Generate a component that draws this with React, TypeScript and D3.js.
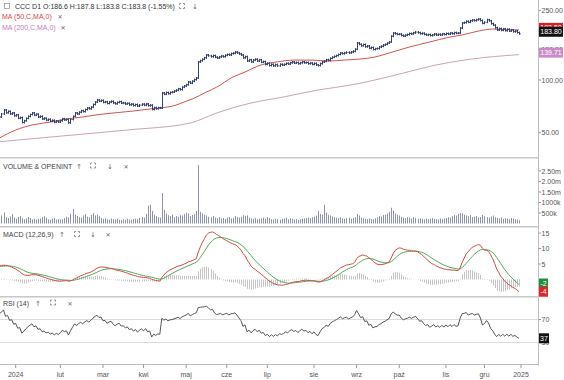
import React from "react";
import * as d3 from "d3";

const W = 564;
const H = 380;

// Daily closes (trading days), first bar is 8 sessions before 2 Jan 2024
const closes = [
  61.5, 64.0, 67.4, 65.0, 66.2, 64.0, 64.8, 62.5, 63.2, 60.5,
  61.0, 57.2, 58.5, 60.4, 62.0, 63.5, 64.8, 63.0, 63.8, 61.5,
  62.0, 59.9, 60.5, 59.0, 59.6, 58.2, 58.8, 57.5, 58.3, 57.6,
  58.6, 60.0, 59.2, 59.6, 57.0, 59.5, 62.0, 64.8, 64.0, 65.5,
  66.8, 66.0, 67.8, 69.2, 68.5, 70.0, 72.5, 74.8, 76.9, 75.8,
  76.5, 74.6, 75.0, 73.5, 74.8, 75.5, 74.0, 73.2, 74.5, 75.2,
  73.8, 74.0, 73.0, 73.6, 72.2, 72.8, 71.5, 72.4, 71.0, 72.0,
  72.8, 71.8, 73.0, 71.4, 71.8, 68.0, 69.5, 68.6, 69.4, 69.2,
  84.3, 83.0, 84.8, 83.5, 85.0, 85.4, 86.5, 87.5, 89.0, 88.2,
  91.0, 92.5, 94.0, 97.4, 96.0, 98.5, 100.5, 102.7, 126.8, 129.0,
  131.5, 134.0, 139.0, 137.5, 136.0, 138.0, 135.0, 133.6, 135.5, 137.0,
  136.0, 138.5, 140.0, 139.0, 141.5, 142.5, 144.5, 143.0, 141.0, 139.0,
  134.0, 136.0, 128.5, 130.5, 127.0, 130.0, 131.5, 128.5, 130.5, 126.5,
  127.5, 123.0, 124.5, 121.0, 123.0, 120.5, 122.5, 120.5, 123.0, 121.8,
  123.0, 124.5, 123.5, 125.5, 126.8, 125.0, 126.0, 124.0, 125.5, 127.0,
  125.5, 126.0, 124.0, 125.0, 123.0, 124.5, 122.0, 121.0, 124.0, 126.8,
  128.0, 130.5, 129.5, 133.0, 135.0, 136.5, 138.0, 140.0, 142.7, 141.5,
  143.0, 144.0, 143.0, 144.5, 146.0, 150.0, 162.7, 160.0, 157.0, 159.5,
  155.0, 156.5, 152.0, 153.5, 149.5, 151.0, 151.5, 154.4, 156.0, 158.5,
  160.0, 162.7, 165.0, 178.0, 185.6, 184.0, 182.5, 183.0, 180.0, 178.4,
  180.5, 182.0, 184.5, 183.5, 186.0, 188.0, 186.5, 184.0, 185.0, 182.5,
  180.8, 182.0, 179.5, 181.0, 183.0, 180.8, 182.5, 181.0, 183.5, 182.0,
  184.5, 183.0, 185.6, 184.0, 186.5, 185.0, 185.6, 198.0, 211.7, 213.0,
  216.5, 214.0, 218.0, 220.0, 218.5, 221.0, 223.0, 219.0, 211.0, 214.0,
  221.0, 218.0, 210.0, 206.0, 199.0, 193.0, 197.0, 192.5, 196.0, 191.5,
  195.0, 190.5, 193.5, 189.0, 190.5, 186.7, 183.8,
];

// Daily volume, thousands of shares
const volumes = [
  420, 380, 520, 300, 260, 340, 450, 280, 230, 310,
  350, 250, 200, 240, 310, 260, 190, 220, 180, 210,
  240, 300, 350, 280, 200, 170, 230, 260, 190, 210,
  180, 200, 260, 320, 280, 450, 700, 420, 360, 300,
  280, 390, 450, 320, 300, 410, 500, 380, 430, 360,
  270, 220, 250, 200, 180, 240, 210, 190, 230, 170,
  160, 200, 180, 220, 190, 170, 210, 240, 200, 260,
  300, 280, 450, 850, 900, 600, 420, 350, 300, 280,
  1450, 650, 480, 400, 350, 430, 300, 360, 320, 400,
  380, 450, 520, 480, 360, 400, 440, 600, 2780, 560,
  480, 420, 380, 320, 300, 360, 280, 250, 300, 240,
  260, 220, 280, 300, 240, 260, 350, 300, 280, 320,
  400, 360, 380, 280, 240, 220, 260, 200, 230, 250,
  280, 220, 300, 260, 200, 190, 230, 210, 180, 220,
  240, 280, 200, 250, 220, 190, 210, 170, 200, 230,
  240, 260, 280, 250, 300, 330, 380, 600, 450, 420,
  900, 520, 400, 380, 340, 300, 280, 260, 300, 240,
  220, 250, 280, 230, 260, 300, 450, 380, 280, 250,
  230, 210, 240, 220, 200, 250, 300, 350, 330, 400,
  420, 480, 560, 750, 620, 480, 420, 380, 300, 280,
  260, 300, 280, 240, 310, 270, 230, 250, 220, 200,
  240, 210, 230, 260, 220, 200, 190, 240, 210, 230,
  260, 300, 280, 350, 400, 380, 450, 500, 480, 420,
  380, 350, 400, 300, 330, 360, 280, 310, 400, 350,
  300, 280, 330, 380, 300, 260, 240, 280, 220, 250,
  230, 200, 260, 240, 210, 190, 150,
];

// Moving averages (bar index, value)
const ma50Bars = [0, 8, 16, 25, 33, 41, 49, 66, 74, 79, 87, 91, 95, 102, 107, 115, 121, 125, 129, 137, 145, 154, 162, 170, 185, 192, 202, 212, 222, 228, 236, 243, 250, 256];
const ma50Vals = [46.6, 51.8, 55.3, 57.5, 59.9, 61.5, 63.5, 66.5, 68.3, 69.2, 71.9, 74.9, 77.9, 85.4, 91.0, 104, 111, 117, 122, 127, 130, 130, 128.4, 130, 135.3, 142.7, 154.4, 165, 176, 181, 190.5, 195.6, 194, 193.5];
const ma200Bars = [0, 31, 63, 94, 107, 124, 140, 157, 173, 185, 199, 215, 232, 256];
const ma200Vals = [44.4, 47.9, 51.8, 56.8, 64.8, 73.9, 80.0, 87.7, 93.6, 100, 109.6, 121.8, 131.5, 139.71];

const macdStart = 4.5;
const signalStart = 4.2;
const ema12Lag = 1.0;
const rsiStartGain = 0.8;
const rsiStartLoss = 0.2;

// Axis
const firstBarSession = -8;
const monthSessions = [0, 22, 43, 63, 84, 104, 124, 147, 168, 189, 212, 231, 249];
const monthLabels = ["2024", "lut", "mar", "kwi", "maj", "cze", "lip", "sie", "wrz", "paź", "lis", "gru", "2025"];
const priceTicks = [50, 100, 150, 250];
const volTicks = [500, 1000, 1500, 2000, 2500];
const volTickLabels = ["500k", "1000k", "1.50m", "2.00m", "2.50m"];
const macdTicks = [5, 10, 15];
const rsiTicks = [30, 70];

const FONT = "'Liberation Sans', Arial, sans-serif";

// ---------- indicators ----------
const macd: number[] = [];
const signal: number[] = [];
const hist: number[] = [];
{
  let e12 = closes[0] - ema12Lag;
  let e26 = e12 - macdStart;
  let sig = signalStart;
  const k12 = 2 / 13, k26 = 2 / 27, k9 = 2 / 10;
  closes.forEach((c, j) => {
    if (j > 0) {
      e12 += k12 * (c - e12);
      e26 += k26 * (c - e26);
    }
    const m = e12 - e26;
    if (j > 0) sig += k9 * (m - sig);
    macd.push(m);
    signal.push(sig);
    hist.push(m - sig);
  });
}
const rsi: number[] = [];
{
  let ag = rsiStartGain, al = rsiStartLoss;
  closes.forEach((c, j) => {
    if (j > 0) {
      const ch = c - closes[j - 1];
      ag = (ag * 13 + Math.max(ch, 0)) / 14;
      al = (al * 13 + Math.max(-ch, 0)) / 14;
    }
    rsi.push(100 - 100 / (1 + ag / al));
  });
}

// ---------- scales ----------
const xSession = d3.scaleLinear().domain([0, 249]).range([15.7, 521]);
const xBar = (j: number) => xSession(j + firstBarSession);
const yPrice = d3.scaleLog().domain([50, 250]).range([132.7, 10.4]);
const yVol = d3.scaleLinear().domain([0, 2500]).range([223.5, 171]);
const yMacd = d3.scaleLinear().domain([0, 15]).range([279.5, 233]);
const yRsi = d3.scaleLinear().domain([30, 70]).range([342.5, 319.5]);

const AX = 538.5;

function Corners({ x, y }: { x: number; y: number }) {
  const s = 5, a = 1.6;
  const d = `M${x},${y + a}V${y}H${x + a} M${x + s - a},${y}H${x + s}V${y + a} M${x},${y + s - a}V${y + s}H${x + a} M${x + s - a},${y + s}H${x + s}V${y + s - a}`;
  return <path d={d} fill="none" stroke="#777" strokeWidth={0.8} />;
}

function Header({ y, title, icons, xs }: { y: number; title: string; icons: string[]; xs: number[] }) {
  return (
    <g fontFamily={FONT} fontSize={7} fill="#444">
      <text x={3} y={y}>{title}</text>
      {icons.map((ic, i) =>
        ic === "corners" ? (
          <Corners key={i} x={xs[i] - 2.5} y={y - 5.5} />
        ) : (
          <text key={i} x={xs[i]} y={y} textAnchor="middle" fontFamily="'DejaVu Sans', sans-serif" fontSize={ic === "✕" ? 6 : 7} fill="#666">{ic}</text>
        )
      )}
    </g>
  );
}

function Box({ y, text, bg, w = 24 }: { y: number; text: string; bg: string; w?: number }) {
  return (
    <g>
      <rect x={539} y={y - 5} width={w} height={10} fill={bg} />
      <text x={539 + w / 2} y={y + 2.5} textAnchor="middle" fontFamily={FONT} fontSize={7} fill="#fff">{text}</text>
    </g>
  );
}

export default function App() {
  const barsPath = closes
    .map((c, j) => {
      const o = j > 0 ? closes[j - 1] : c;
      const x = Math.round(xBar(j)) + 0.5;
      const hi = Math.max(o, c), lo = Math.min(o, c);
      const yh = yPrice(hi), yl = yPrice(lo);
      return `M${x},${yh - 1}V${yl + 1}M${x - 1.2},${yPrice(o)}H${x}M${x},${yPrice(c)}H${x + 1.2}`;
    })
    .join("");

  const ma50Line = d3
    .line<number>()
    .x((_, i) => xBar(ma50Bars[i]))
    .y((v) => yPrice(v))
    .curve(d3.curveMonotoneX)(ma50Vals);
  const ma200Line = d3
    .line<number>()
    .x((_, i) => xBar(ma200Bars[i]))
    .y((v) => yPrice(v))
    .curve(d3.curveMonotoneX)(ma200Vals);

  const volPath = volumes
    .map((v, j) => {
      const x = Math.round(xBar(j)) + 0.5;
      return `M${x},${yVol(0)}V${yVol(v)}`;
    })
    .join("");

  const histPath = hist
    .map((v, j) => {
      const x = Math.round(xBar(j)) + 0.5;
      return `M${x},${yMacd(0)}V${yMacd(v)}`;
    })
    .join("");

  const lineOf = (arr: number[], ys: (v: number) => number) =>
    d3
      .line<number>()
      .x((_, j) => xBar(j))
      .y((v) => ys(v))(arr);

  const lastClose = closes[closes.length - 1];
  const lastMa50 = ma50Vals[ma50Vals.length - 1];
  const lastMa200 = ma200Vals[ma200Vals.length - 1];
  const lastMacd = macd[macd.length - 1];
  const lastSig = signal[signal.length - 1];
  const lastRsi = rsi[rsi.length - 1];

  return (
    <svg width={W} height={H} style={{ position: "absolute", left: 0, top: 0, background: "#fff" }}>
      <defs>
        <clipPath id="cMain"><rect x={0} y={0} width={AX} height={157} /></clipPath>
        <clipPath id="cVol"><rect x={0} y={159} width={AX} height={67} /></clipPath>
        <clipPath id="cMacd"><rect x={0} y={228} width={AX} height={67} /></clipPath>
        <clipPath id="cRsi"><rect x={0} y={298} width={AX} height={66} /></clipPath>
      </defs>
      <rect x={0} y={0} width={W} height={H} fill="#fff" />

      {/* panel separators */}
      {[157.5, 226.5, 296.5].map((y) => (
        <g key={y}>
          <line x1={0} x2={AX} y1={y} y2={y} stroke="#c8c8c8" strokeWidth={1} />
          <line x1={0} x2={AX} y1={y + 1} y2={y + 1} stroke="#e2e2e2" strokeWidth={1} />
        </g>
      ))}
      <line x1={0} x2={AX} y1={364.5} y2={364.5} stroke="#c0c0c0" />
      <line x1={AX} x2={AX} y1={0} y2={366} stroke="#c0c0c0" />

      {/* RSI guides */}
      {rsiTicks.map((t) => (
        <line key={t} x1={0} x2={AX} y1={yRsi(t)} y2={yRsi(t)} stroke="#dcdcdc" />
      ))}

      {/* main panel */}
      <g clipPath="url(#cMain)">
        <path d={ma200Line || ""} fill="none" stroke="#c9a3b5" strokeWidth={1} />
        <path d={ma50Line || ""} fill="none" stroke="#d0554f" strokeWidth={1} />
        <path d={barsPath} fill="none" stroke="#34406e" strokeWidth={1} />
      </g>

      {/* volume */}
      <g clipPath="url(#cVol)">
        <path d={volPath} fill="none" stroke="#8e93aa" strokeWidth={1} />
      </g>

      {/* MACD */}
      <g clipPath="url(#cMacd)">
        <path d={histPath} fill="none" stroke="#c4c4c4" strokeWidth={1} />
        <path d={lineOf(signal, yMacd) || ""} fill="none" stroke="#4caa5a" strokeWidth={1} />
        <path d={lineOf(macd, yMacd) || ""} fill="none" stroke="#d24a44" strokeWidth={1} />
      </g>

      {/* RSI */}
      <g clipPath="url(#cRsi)">
        <path d={lineOf(rsi, yRsi) || ""} fill="none" stroke="#555" strokeWidth={1} />
      </g>

      {/* right axis labels */}
      <g fontFamily={FONT} fontSize={7} fill="#555">
        {priceTicks.map((t) => (
          <g key={t}>
            <line x1={AX} x2={AX + 2.5} y1={yPrice(t)} y2={yPrice(t)} stroke="#999" />
            <text x={541.5} y={yPrice(t) + 2.5}>{d3.format(".2f")(t)}</text>
          </g>
        ))}
        {volTicks.map((t, i) => (
          <g key={t}>
            <line x1={AX} x2={AX + 2.5} y1={yVol(t)} y2={yVol(t)} stroke="#999" />
            <text x={541.5} y={yVol(t) + 2.5}>{volTickLabels[i]}</text>
          </g>
        ))}
        {macdTicks.map((t) => (
          <g key={t}>
            <line x1={AX} x2={AX + 2.5} y1={yMacd(t)} y2={yMacd(t)} stroke="#999" />
            <text x={541.5} y={yMacd(t) + 2.5}>{t}</text>
          </g>
        ))}
        {rsiTicks.map((t) => (
          <g key={t}>
            <line x1={AX} x2={AX + 2.5} y1={yRsi(t)} y2={yRsi(t)} stroke="#999" />
            <text x={541.5} y={yRsi(t) + 2.5}>{t}</text>
          </g>
        ))}
      </g>

      {/* value boxes */}
      <Box y={yPrice(lastMa50) - 2} text={d3.format(".2f")(lastMa50)} bg="#d8202a" />
      <Box y={yPrice(lastClose) - 2} text={d3.format(".2f")(lastClose)} bg="#111" />
      <Box y={yPrice(lastMa200) - 2} text={d3.format(".2f")(lastMa200)} bg="#c98bc6" />
      <Box y={Math.min(yMacd(lastSig), 283) + 0.5} text={String(Math.round(lastSig))} bg="#1f8f3a" w={9} />
      <Box y={Math.max(yMacd(lastMacd), 291.5)} text={String(Math.round(lastMacd))} bg="#e0262d" w={9} />
      <Box y={yRsi(lastRsi)} text={String(Math.round(lastRsi))} bg="#111" w={10} />

      {/* x axis */}
      <g fontFamily={FONT} fontSize={7} fill="#555">
        {monthSessions.map((s, i) => (
          <g key={s}>
            <line x1={xSession(s)} x2={xSession(s)} y1={364.5} y2={368} stroke="#999" />
            <text x={xSession(s)} y={377} textAnchor="middle">{monthLabels[i]}</text>
          </g>
        ))}
      </g>

      {/* headers */}
      <rect x={4.5} y={3.5} width={5} height={5} fill="none" stroke="#999" strokeWidth={0.8} />
      <Header y={9} title="" icons={["corners", "↓"]} xs={[182, 195]} />
      <text x={15} y={9} fontFamily={FONT} fontSize={7} fill="#333">CCC D1 O:186.6 H:187.8 L:183.8 C:183.8 (-1.55%)</text>
      <text x={2} y={19} fontFamily={FONT} fontSize={7} fill="#d8434a">MA (50,C,MA,0)</text>
      <text x={60} y={19} fontFamily="'DejaVu Sans', sans-serif" fontSize={6} fill="#666" textAnchor="middle">✕</text>
      <text x={2} y={30} fontFamily={FONT} fontSize={7} fill="#c07ec0">MA (200,C,MA,0)</text>
      <text x={63} y={30} fontFamily="'DejaVu Sans', sans-serif" fontSize={6} fill="#666" textAnchor="middle">✕</text>
      <Header y={168.5} title="VOLUME & OPENINT" icons={["↑", "corners", "↓", "✕"]} xs={[79, 93, 110, 126]} />
      <Header y={237} title="MACD (12,26,9)" icons={["↑", "corners", "↓", "✕"]} xs={[62, 77, 93, 108]} />
      <Header y={305.5} title="RSI (14)" icons={["↑", "corners", "✕"]} xs={[38, 53, 70]} />
    </svg>
  );
}
